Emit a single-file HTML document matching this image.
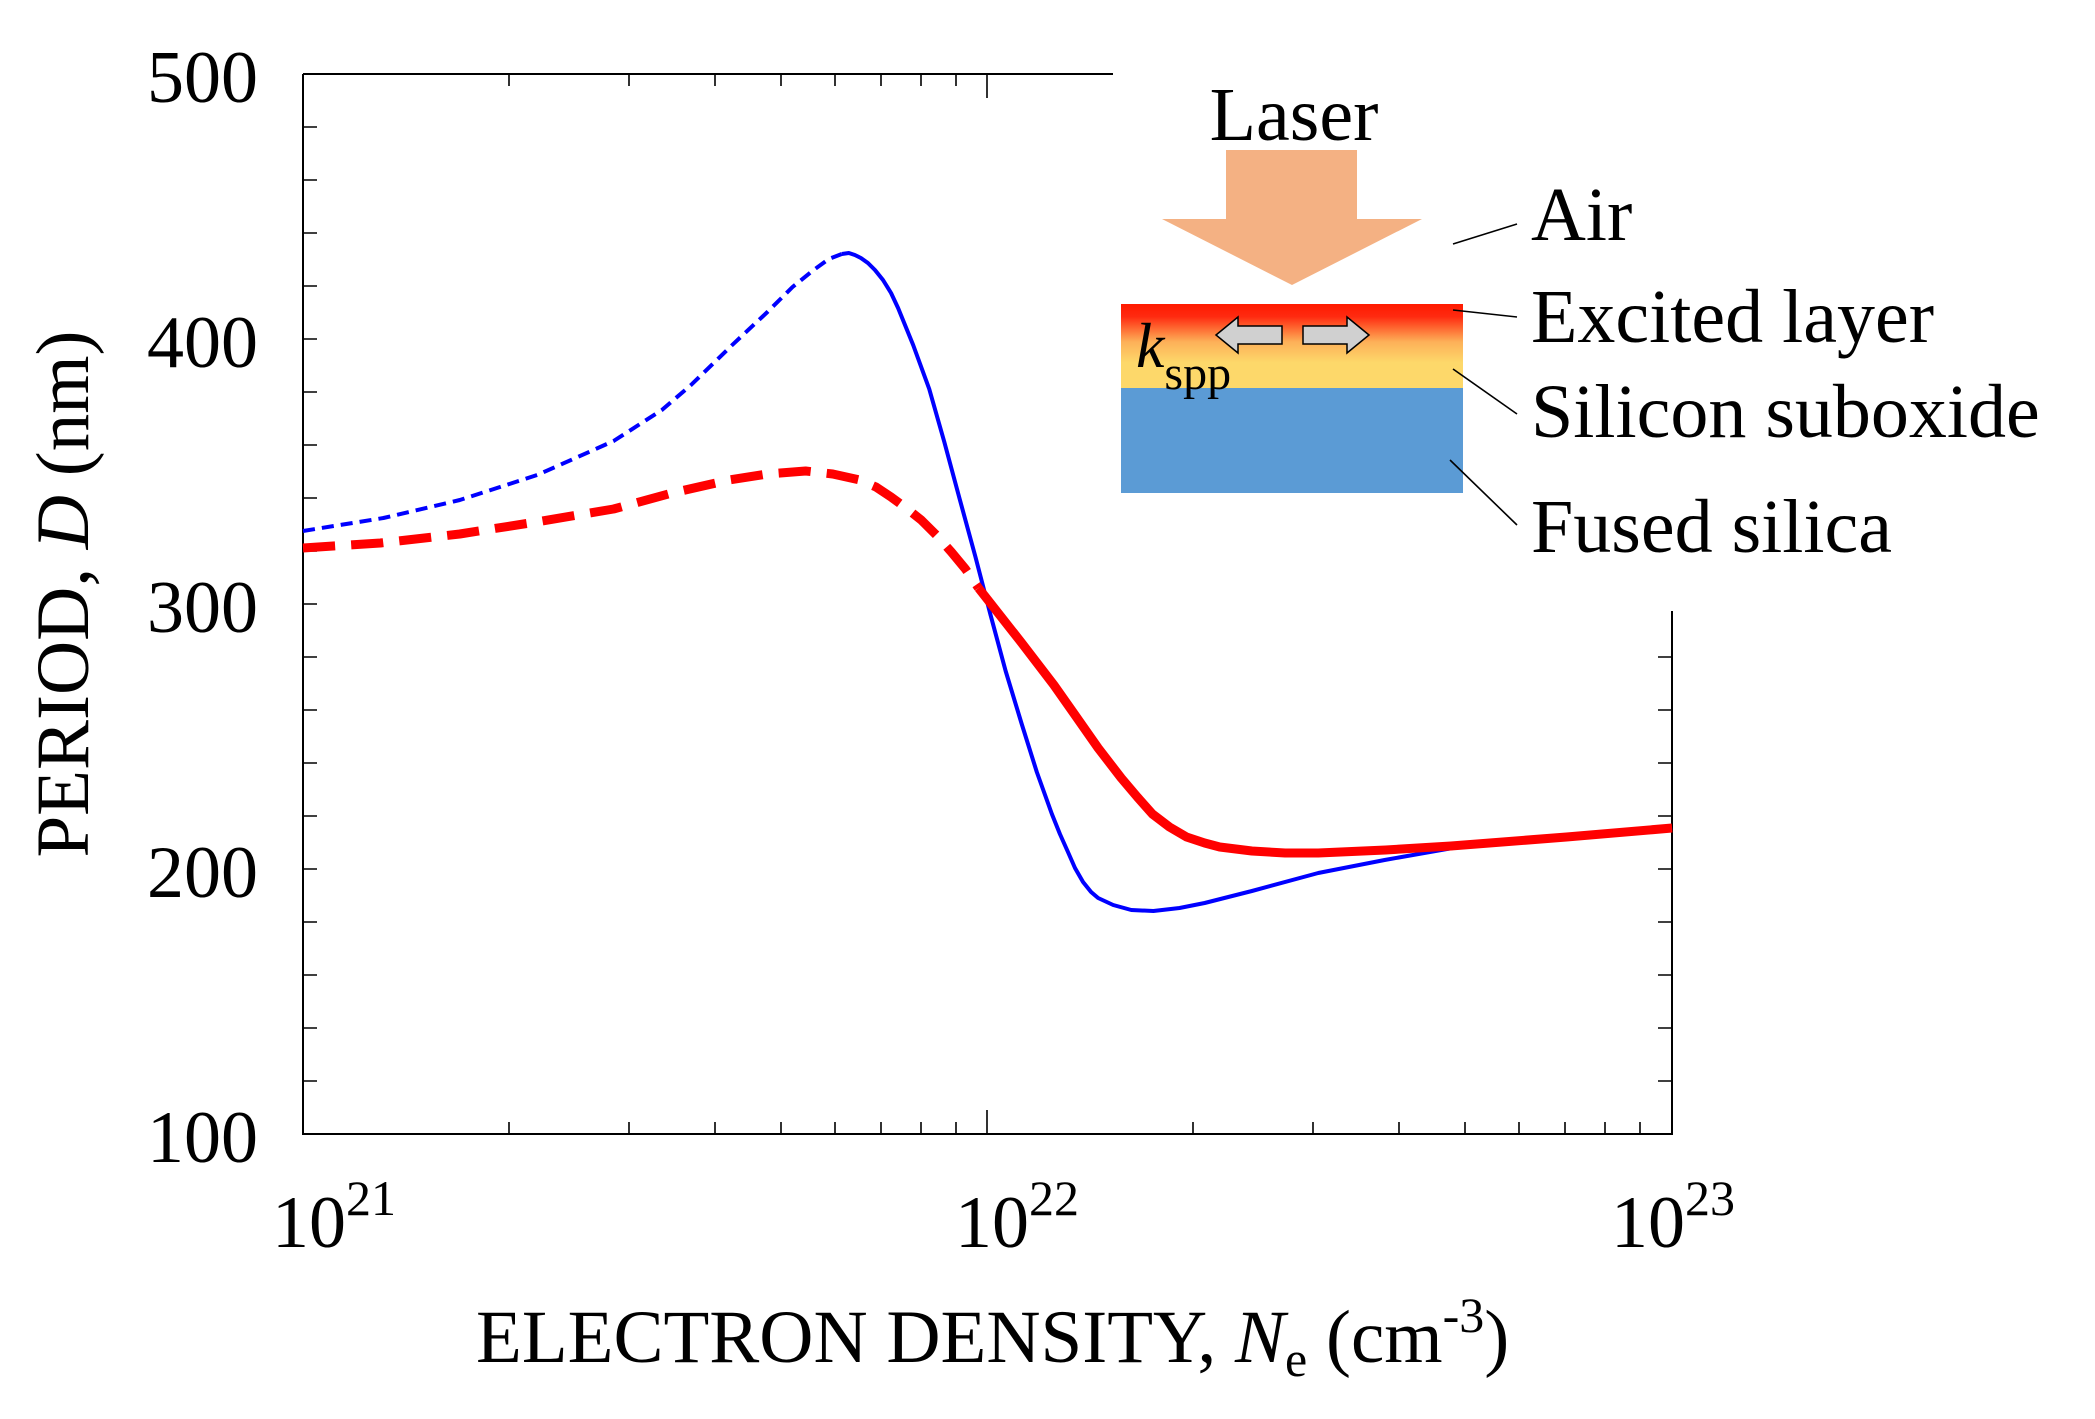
<!DOCTYPE html>
<html><head><meta charset="utf-8"><style>
html,body{margin:0;padding:0;background:#fff}
svg{display:block}
text{font-family:"Liberation Serif",serif;fill:#000}
</style></head><body>
<svg width="2095" height="1419" viewBox="0 0 2095 1419" xmlns="http://www.w3.org/2000/svg">
<defs>
<linearGradient id="g" x1="0" y1="0" x2="0" y2="1">
<stop offset="0" stop-color="#ff1a00"/>
<stop offset="0.15" stop-color="#ff2a10"/>
<stop offset="0.45" stop-color="#fdb058"/>
<stop offset="0.7" stop-color="#fdd86a"/>
<stop offset="1" stop-color="#fdd86a"/>
</linearGradient>
</defs>
<g stroke="#000" stroke-width="2" fill="none">
<path d="M303,74 V1134 H1672 V611"/>
<path d="M303,74 H1113"/>
</g>
<g stroke="#000" stroke-width="1.6">
<path d="M303,127h14M303,180h14M303,233h14M303,286h14M303,339h14M303,392h14M303,445h14M303,498h14M303,551h14M303,604h14M303,657h14M303,710h14M303,763h14M303,816h14M303,869h14M303,922h14M303,975h14M303,1028h14M303,1081h14"/>
<path d="M1672,657h-14M1672,710h-14M1672,763h-14M1672,816h-14M1672,869h-14M1672,922h-14M1672,975h-14M1672,1028h-14M1672,1081h-14"/>
<path d="M509,1134v-12M629,1134v-12M715,1134v-12M781,1134v-12M835,1134v-12M881,1134v-12M921,1134v-12M956,1134v-12M987,1134v-24M1193,1134v-12M1313,1134v-12M1399,1134v-12M1465,1134v-12M1519,1134v-12M1565,1134v-12M1605,1134v-12M1640,1134v-12"/>
<path d="M509,74v12M629,74v12M715,74v12M781,74v12M835,74v12M881,74v12M921,74v12M956,74v12M987,74v24"/>
</g>
<g font-size="74" text-anchor="end">
<text x="258" y="102">500</text>
<text x="258" y="367">400</text>
<text x="258" y="632">300</text>
<text x="258" y="897">200</text>
<text x="258" y="1162">100</text>
</g>
<g font-size="74">
<text x="272" y="1247">10<tspan font-size="50" dy="-32">21</tspan></text>
<text x="955" y="1247">10<tspan font-size="50" dy="-32">22</tspan></text>
<text x="1611" y="1247">10<tspan font-size="50" dy="-32">23</tspan></text>
</g>
<text x="476" y="1362" font-size="75">ELECTRON DENSITY, <tspan font-style="italic">N</tspan><tspan font-size="50" dy="14">e</tspan><tspan dy="-14"> (cm</tspan><tspan font-size="50" dy="-30">-3</tspan><tspan dy="30">)</tspan></text>
<text transform="translate(88,594) rotate(-90)" font-size="75" text-anchor="middle">PERIOD, <tspan font-style="italic">D</tspan> (nm)</text>

<g transform="translate(303,0) scale(1.0052,1) translate(-303,0)">
<polyline fill="none" stroke="#0000ff" stroke-width="4" stroke-dasharray="12,7" stroke-linejoin="round" points="303,531 383,518 459,500 536,475 612,441 660,410 689,385 730,345 765,312 790,287 811,270 826,259 839,254"/>
<polyline fill="none" stroke="#0000ff" stroke-width="4" stroke-linejoin="round" points="839,254 846,253 852,255 858,258 865,263 872,270 880,280 888,293 895,308 910,345 926,389 941,442 956,498 972,557 987,615 1002,671 1018,724 1033,772 1048,814 1056,834 1064,852 1071,868 1079,882 1087,892 1094,898 1109,905 1127,910 1149,911 1175,908 1200,903 1247,891 1313,873 1379,860 1458,846 1560,837 1665,828"/>
<polyline fill="none" stroke="#ff0000" stroke-width="9" stroke-dasharray="32,16" stroke-linejoin="round" points="303,548 380,543 459,534 535,522 612,509 670,493 727,480 765,474 803,471 830,474 857,480 873,487 888,497 903,508 918,520 933,535 948,552 962,569 975,588"/>
<polyline fill="none" stroke="#ff0000" stroke-width="9" stroke-linejoin="round" points="975,588 1018,643 1050,685 1071,715 1094,748 1117,778 1133,797 1148,814 1165,827 1182,837 1200,843 1215,847 1247,851 1280,853 1313,853 1380,850 1445,846 1560,837 1665,828"/>
</g>

<rect x="1121" y="304" width="342" height="84" fill="url(#g)"/>
<rect x="1121" y="388" width="342" height="105" fill="#5b9bd5"/>
<polygon points="1226,150 1357,150 1357,219 1422,219 1292,285 1162,219 1226,219" fill="#f4b183"/>
<text x="1294" y="140" font-size="76" text-anchor="middle">Laser</text>
<polygon points="1216,335 1238,317 1238,326 1282,326 1282,344 1238,344 1238,353" fill="#d0d0d0" stroke="#000" stroke-width="1.5"/>
<polygon points="1369,335 1347,317 1347,326 1303,326 1303,344 1347,344 1347,353" fill="#d0d0d0" stroke="#000" stroke-width="1.5"/>
<text x="1136" y="367" font-size="64" font-style="italic">k<tspan font-style="normal" font-size="48" dy="22">spp</tspan></text>
<g stroke="#000" stroke-width="1.6">
<line x1="1453" y1="244" x2="1517" y2="224"/>
<line x1="1453" y1="310" x2="1517" y2="317"/>
<line x1="1453" y1="369" x2="1517" y2="414"/>
<line x1="1450" y1="460" x2="1517" y2="525"/>
</g>
<g font-size="76">
<text x="1531" y="240">Air</text>
<text x="1531" y="342">Excited layer</text>
<text x="1531" y="437">Silicon suboxide</text>
<text x="1531" y="552">Fused silica</text>
</g>
</svg>
</body></html>
